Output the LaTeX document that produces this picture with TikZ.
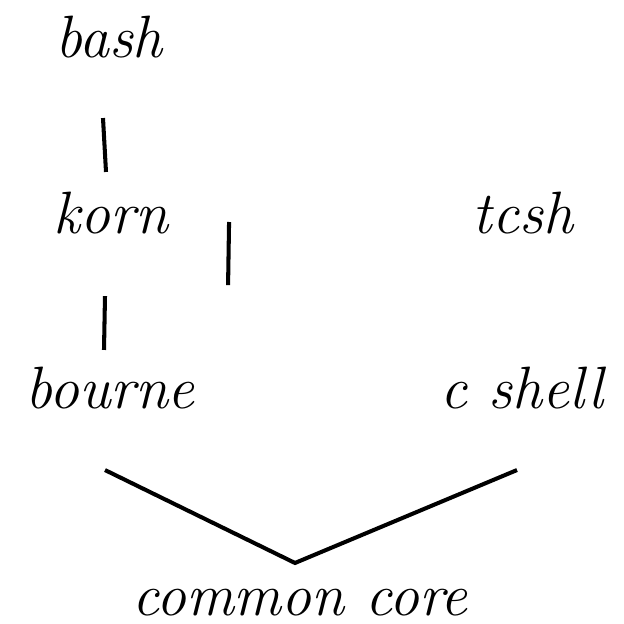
\documentclass[tikz,border=0pt]{standalone}
\usetikzlibrary{positioning}

\begin{document}
\begin{tikzpicture}[x=0.01cm, y=-0.01cm,
    shell/.style={anchor=base, inner sep=0pt, font=\fontsize{17}{20}\selectfont\itshape},
    edge/.style={line width=1.15pt}]
    \useasboundingbox (0,0) rectangle (624,624);

    \node[shell] (bash) at (109,57) {bash};
    \node[shell] (korn) at (111,233) {korn};
    \node[shell] (tcsh) at (523,233) {tcsh};
    \node[shell] (bourne) at (110,408) {bourne};
    \node[shell] (cshell) at (522,408) {c shell};
    \node[shell] (core) at (300,615) {common core};

    \draw[edge] ([xshift=-0.06cm, yshift=-0.61cm]bash.base) -- ([xshift=-0.05cm, yshift=0.61cm]korn.base);
    \draw[edge] ([xshift=-0.06cm, yshift=-0.63cm]korn.base) -- ([xshift=-0.06cm, yshift=0.58cm]bourne.base);
    \draw[edge] ([xshift=1.18cm, yshift=0.11cm]korn.base) -- ([xshift=1.17cm, yshift=-0.52cm]korn.base);

    \draw[edge] ([xshift=-0.05cm, yshift=-0.62cm]bourne.base) -- ([xshift=-0.05cm, yshift=0.52cm]core.base)
        -- ([xshift=-0.05cm, yshift=-0.62cm]cshell.base);
\end{tikzpicture}
\end{document}
